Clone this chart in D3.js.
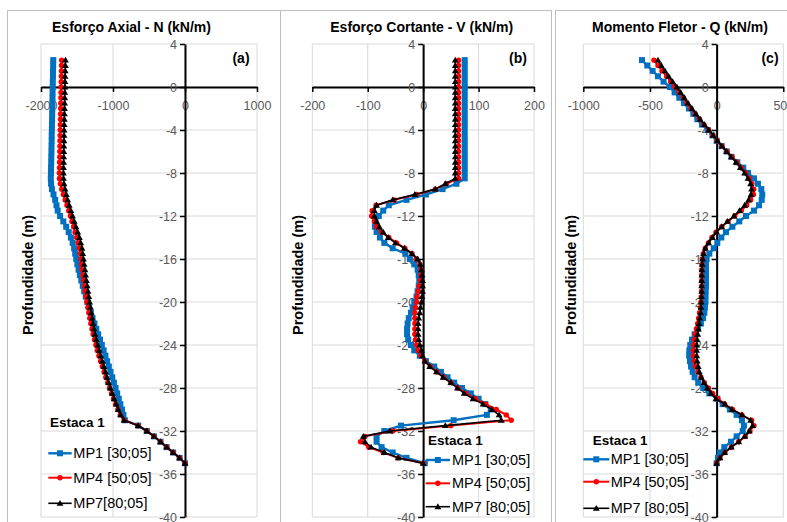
<!DOCTYPE html>
<html><head><meta charset="utf-8">
<script src="https://cdn.jsdelivr.net/npm/d3@7/dist/d3.min.js"></script>
<style>body{margin:0;background:#fff}svg{display:block;font-family:"Liberation Sans",Arial,sans-serif}</style>
</head><body><svg id="chart" width="787" height="522"></svg>
<script>
// ---------- data ----------
const depth = [2.5,2,1.5,1,0.5,0,-0.5,-1,-1.5,-2,-2.5,-3,-3.5,-4,-4.5,-5,-5.5,-6,-6.5,-7,-7.5,-8,-8.5,-9,-9.5,-10,-10.5,-11,-11.5,-12,-12.5,-13,-13.5,-14,-14.5,-15,-15.5,-16,-16.5,-17,-17.5,-18,-18.5,-19,-19.5,-20,-20.5,-21,-21.5,-22,-22.5,-23,-23.5,-24,-24.5,-25,-25.5,-26,-26.5,-27,-27.5,-28,-28.5,-29,-29.5,-30,-30.5,-31,-31.5,-32,-32.5,-33,-33.5,-34,-34.5,-35];

// (a) Esforço Axial N
const axialMP1 = [-1830,-1831,-1833,-1834,-1836,-1837,-1839,-1840,-1842,-1843,-1845,-1846,-1848,-1849,-1851,-1852,-1854,-1855,-1857,-1858,-1860,-1862,-1864,-1860,-1848,-1826,-1803,-1785,-1768,-1735,-1690,-1650,-1615,-1585,-1560,-1540,-1525,-1510,-1495,-1478,-1460,-1440,-1420,-1400,-1378,-1355,-1332,-1308,-1284,-1258,-1232,-1206,-1180,-1155,-1130,-1105,-1082,-1058,-1035,-1010,-988,-965,-942,-920,-898,-875,-855,-835,-650,-530,-430,-340,-255,-165,-75,0];
const axialMP4 = [-1713,-1715,-1716,-1718,-1719,-1721,-1722,-1724,-1725,-1727,-1728,-1730,-1731,-1733,-1734,-1736,-1737,-1739,-1740,-1742,-1743,-1745,-1744,-1732,-1712,-1690,-1665,-1640,-1615,-1592,-1570,-1548,-1527,-1505,-1485,-1468,-1455,-1445,-1437,-1430,-1418,-1406,-1395,-1385,-1374,-1363,-1350,-1336,-1322,-1308,-1292,-1276,-1257,-1238,-1218,-1196,-1172,-1148,-1124,-1100,-1074,-1048,-1020,-992,-962,-932,-898,-845,-650,-530,-430,-340,-255,-165,-75,0];
const axialMP7 = [-1660,-1662,-1663,-1665,-1667,-1668,-1670,-1671,-1672,-1674,-1675,-1676,-1677,-1679,-1680,-1681,-1683,-1684,-1685,-1686,-1688,-1689,-1688,-1680,-1666,-1648,-1630,-1608,-1585,-1562,-1538,-1514,-1490,-1466,-1448,-1430,-1420,-1410,-1400,-1390,-1380,-1369,-1358,-1347,-1336,-1325,-1313,-1301,-1289,-1277,-1264,-1250,-1232,-1212,-1191,-1170,-1148,-1126,-1104,-1082,-1060,-1036,-1010,-984,-956,-928,-895,-845,-650,-530,-430,-340,-255,-165,-75,0];

// (b) Esforço Cortante V
const shearMP1 = [75,75,75,75,75,75,75,75,75,75,75,75,75,75,75,75,75,75,75,75,75,75,75,60,35,5,-30,-62,-72,-80,-86,-87,-84,-78,-70,-55,-32,-24,-16,-10,-8,-7,-8,-10,-12,-16,-19,-22,-26,-28,-29,-29,-27,-22,-16,-6,5,20,32,44,56,70,86,100,112,122,115,55,-40,-70,-84,-84,-75,-55,-30,3];
const shearMP4 = [64,64,64,64,64,64,64,64,64,64,64,64,64,64,64,64,64,64,64,64,64,64,64,42,22,-12,-52,-85,-92,-93,-88,-84,-75,-62,-48,-33,-20,-12,-6,-4,-4,-5,-7,-9,-11,-12,-14,-15,-15,-15,-15,-15,-14,-12,-9,-4,3,13,25,37,50,63,77,94,113,132,150,159,50,-55,-105,-113,-98,-72,-45,0];
const shearMP7 = [58,58,58,58,58,58,58,58,58,58,58,58,58,58,58,58,58,58,58,58,58,58,58,40,22,-15,-55,-84,-88,-88,-84,-79,-72,-63,-50,-34,-20,-10,-5,-3,-2,-1,-1,-1,-2,-3,-5,-6,-8,-9,-9,-9,-8,-6,-3,-1,3,12,24,36,50,62,74,90,108,124,137,141,40,-60,-108,-105,-94,-70,-45,0];

// (c) Momento Fletor Q
const momentMP1 = [-560,-520,-480,-440,-398,-350,-315,-280,-245,-208,-175,-145,-110,-68,-32,0,38,75,112,155,200,235,280,310,335,342,338,318,280,220,170,118,70,35,5,-22,-55,-75,-80,-80,-80,-80,-80,-82,-83,-85,-88,-92,-102,-118,-140,-165,-185,-198,-205,-206,-200,-192,-180,-165,-138,-100,-55,5,45,100,150,190,205,196,150,108,58,25,10,0];
const momentMP4 = [-470,-440,-410,-375,-345,-312,-280,-250,-222,-192,-160,-128,-95,-60,-28,5,40,78,115,150,185,218,245,265,278,276,255,225,185,135,85,38,-5,-35,-62,-85,-100,-108,-110,-112,-112,-112,-112,-113,-115,-118,-122,-128,-135,-142,-152,-160,-167,-172,-175,-174,-168,-158,-140,-118,-92,-62,-30,10,60,120,190,262,280,250,215,165,110,62,25,0];
const momentMP7 = [-440,-415,-388,-360,-330,-298,-270,-242,-215,-185,-155,-124,-92,-58,-26,6,40,75,110,145,178,210,235,255,262,258,240,210,172,130,82,38,0,-32,-60,-85,-98,-105,-108,-110,-111,-112,-112,-112,-113,-115,-117,-120,-126,-132,-137,-142,-146,-149,-150,-149,-146,-138,-130,-115,-95,-70,-42,-5,62,115,190,255,270,245,210,165,110,60,25,0];

// tick values and labels
const depthTicks = [4,0,-4,-8,-12,-16,-20,-24,-28,-32,-36,-40];
const xTicksA = [-2000,-1000,0,1000];
const xTicksB = [-200,-100,0,100,200];
const xTicksC = [-1000,-500,0,500];
const titles = ["Esforço Axial - N (kN/m)","Esforço Cortante - V (kN/m)","Momento Fletor - Q (kN/m)"];
const tags = ["(a)","(b)","(c)"];
const yLabel = "Profundidade (m)";
const legendTitle = "Estaca 1";
const legendA = ["MP1 [30;05]","MP4 [50;05]","MP7[80;05]"];
const legendBC = ["MP1 [30;05]","MP4 [50;05]","MP7 [80;05]"];

// ---------- drawing ----------
const svg = d3.select("#chart");
const COLORS = ["#0070C0","#FF0000","#000000"];
const LW = [2.4,2,1.6];
const yTop = 44, yBot = 517;

const panels = [
  {box:[7,10,273], xDom:[-2000,1000], xRng:[41,257], xTicks:xTicksA, series:[axialMP1,axialMP4,axialMP7],
   title:titles[0], tag:tags[0], titleX:131.5, tagX:241, yLabX:27.5,
   leg:{names:legendA, hx:50, hy:422.7, rows:[453.3,477.7,503.3], s1:48.3, s2:71.7, tx:73.3}},
  {box:[280,10,271], xDom:[-200,200], xRng:[312.3,534], xTicks:xTicksB, series:[shearMP1,shearMP4,shearMP7],
   title:titles[1], tag:tags[1], titleX:421.7, tagX:518, yLabX:297.5,
   leg:{names:legendBC, hx:428, hy:440, rows:[460,483.3,506.7], s1:425.7, s2:450, tx:452}},
  {box:[555,10,300], xDom:[-1000,500], xRng:[583.3,783.3], xTicks:xTicksC, series:[momentMP1,momentMP4,momentMP7],
   title:titles[2], tag:tags[2], titleX:680, tagX:770, yLabX:571,
   leg:{names:legendBC, hx:592.7, hy:440.7, rows:[459.3,481.7,508.3], s1:583.3, s2:609.3, tx:610.7}}
];

function marker(g, k, cx, cy){
  if(k===0){
    g.append("rect").attr("x",cx-3).attr("y",cy-3).attr("width",6).attr("height",6).attr("fill",COLORS[0]);
  } else if(k===1){
    g.append("circle").attr("cx",cx).attr("cy",cy).attr("r",2.7).attr("fill",COLORS[1]);
  } else {
    g.append("path").attr("d",d3.symbol(d3.symbolTriangle,20)()).attr("transform",`translate(${cx},${cy+0.5})`).attr("fill",COLORS[2]);
  }
}

panels.forEach((p,pi)=>{
  const g = svg.append("g");
  // frame
  g.append("rect").attr("x",p.box[0]+0.5).attr("y",p.box[1]+0.5).attr("width",p.box[2]).attr("height",600)
    .attr("fill","none").attr("stroke","#bfbfbf").attr("stroke-width",1);

  const x = d3.scaleLinear().domain(p.xDom).range(p.xRng);
  const y = d3.scaleLinear().domain([4,-40]).range([yTop,yBot]);

  // gridlines
  g.append("g").selectAll("line.v").data(p.xTicks).join("line")
    .attr("x1",d=>x(d)).attr("x2",d=>x(d)).attr("y1",yTop).attr("y2",yBot)
    .attr("stroke","#d9d9d9").attr("stroke-width",1);
  g.append("g").selectAll("line.h").data(depthTicks).join("line")
    .attr("x1",p.xRng[0]).attr("x2",p.xRng[1]).attr("y1",d=>y(d)).attr("y2",d=>y(d))
    .attr("stroke","#d9d9d9").attr("stroke-width",1);

  // axes
  const fmt = d=>String(d);
  const ax = g.append("g").attr("transform",`translate(0,${y(0)})`)
    .call(d3.axisBottom(x).tickValues(p.xTicks).tickSize(5).tickSizeOuter(0).tickPadding(9).tickFormat(fmt));
  const ay = g.append("g").attr("transform",`translate(${x(0)},0)`)
    .call(d3.axisLeft(y).tickValues(depthTicks).tickSize(5).tickSizeOuter(0).tickPadding(3).tickFormat(fmt));
  [ax,ay].forEach(a=>{
    a.select(".domain").attr("stroke","#000").attr("stroke-width",2);
    a.selectAll(".tick line").attr("stroke","#000").attr("stroke-width",1.5);
    a.selectAll(".tick text").attr("fill","#595959").attr("font-size","12.5px")
      .attr("font-family","'Liberation Sans',Arial,sans-serif");
  });

  // title, tag, y label
  g.append("text").attr("x",p.titleX).attr("y",32).attr("text-anchor","middle")
    .attr("font-weight","bold").attr("font-size","14px").text(p.title);
  g.append("text").attr("x",p.tagX).attr("y",63).attr("text-anchor","middle")
    .attr("font-weight","bold").attr("font-size","14px").text(p.tag);
  g.append("text").attr("transform",`translate(${p.yLabX},275) rotate(-90)`).attr("text-anchor","middle")
    .attr("dominant-baseline","central").attr("font-weight","bold").attr("font-size","14.5px").text(yLabel);

  // series
  const clipId = "clip"+pi;
  svg.append("clipPath").attr("id",clipId).append("rect")
    .attr("x",p.xRng[0]).attr("y",yTop-4).attr("width",p.xRng[1]-p.xRng[0]).attr("height",yBot-yTop+8);
  const sg = g.append("g").attr("clip-path",`url(#${clipId})`);
  const line = d3.line().x(d=>x(d[1])).y(d=>y(d[0]));
  p.series.forEach((vals,k)=>{
    const pts = depth.map((d,i)=>[d,vals[i]]);
    sg.append("path").datum(pts).attr("d",line).attr("fill","none")
      .attr("stroke",COLORS[k]).attr("stroke-width",LW[k]).attr("stroke-linejoin","round");
    const mg = sg.append("g");
    pts.forEach(pt=>marker(mg,k,x(pt[1]),y(pt[0])));
  });

  // legend
  const L = p.leg;
  g.append("text").attr("x",L.hx).attr("y",L.hy).attr("dominant-baseline","central")
    .attr("font-weight","bold").attr("font-size","13.5px").text(legendTitle);
  L.names.forEach((nm,k)=>{
    const ry = L.rows[k];
    g.append("line").attr("x1",L.s1).attr("x2",L.s2).attr("y1",ry).attr("y2",ry)
      .attr("stroke",COLORS[k]).attr("stroke-width",LW[k]);
    marker(g,k,(L.s1+L.s2)/2,ry);
    g.append("text").attr("x",L.tx).attr("y",ry).attr("dominant-baseline","central")
      .attr("font-size","14.5px").text(nm);
  });
});
</script></body></html>
